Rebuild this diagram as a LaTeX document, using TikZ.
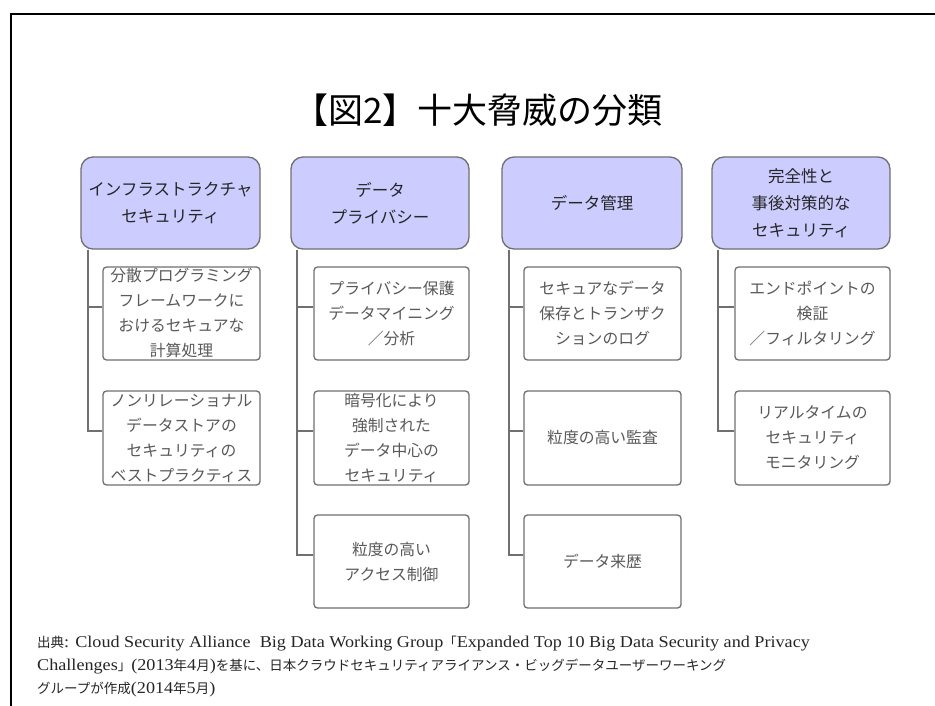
\documentclass[tikz,border=0pt]{standalone}
\usepackage{fontspec}
\setmainfont{Noto Sans CJK JP}
\newfontfamily\lat[FakeStretch=1.1]{Liberation Serif}
\newcommand{\lt}[1]{{\lat\fontsize{16.5}{16}\selectfont #1}}
\begin{document}
\begin{tikzpicture}[x=1pt,y=-1pt,
  head/.style={draw=boxgray, line width=1.3pt, fill=headfill, rounded corners=12pt,
    inner sep=0pt, align=center, text=black!85, font=\fontsize{16.5}{27}\selectfont},
  child/.style={draw=boxgray, line width=1.3pt, fill=white, rounded corners=3.5pt,
    inner sep=0pt, align=center, text=black!65, font=\fontsize{15.8}{25}\selectfont},
  conn/.style={draw=linegray, line width=2pt},
  note/.style={anchor=west, inner sep=0pt, text=black!85, font=\fontsize{13.5}{16}\selectfont}]
\definecolor{headfill}{HTML}{CCCCFF}
\definecolor{boxgray}{HTML}{707070}
\definecolor{linegray}{HTML}{707070}
\useasboundingbox (0,0) rectangle (935,706);
\fill[white] (0,0) rectangle (935,706);
% frame
\draw[line width=2.2pt,black] (11,706) -- (11,14) -- (935,14);
% title
\node[inner sep=0pt, font=\fontsize{35}{40}\selectfont] (title) at (478,110) {【図2】十大脅威の分類};
% headers
\node[head, minimum width=179pt, minimum height=92pt] (h1) at (170.5,203) {インフラストラクチャ\\セキュリティ};
\node[head, minimum width=178pt, minimum height=92pt] (h2) at (380,203) {データ\\プライバシー};
\node[head, minimum width=180pt, minimum height=92pt] (h3) at (592,203) {データ管理};
\node[head, minimum width=178pt, minimum height=92pt] (h4) at (801,203) {完全性と\\事後対策的な\\セキュリティ};
% children col1
\node[child, minimum width=157pt, minimum height=93pt] (c11) at (181.5,313.5) {分散プログラミング\\フレームワークに\\おけるセキュアな\\計算処理};
\node[child, minimum width=157pt, minimum height=94pt] (c12) at (181.5,438) {ノンリレーショナル\\データストアの\\セキュリティの\\ベストプラクティス};
% col2
\node[child, minimum width=155pt, minimum height=93pt] (c21) at (391.5,313.5) {プライバシー保護\\データマイニング\\／分析};
\node[child, minimum width=155pt, minimum height=94pt] (c22) at (391.5,438) {暗号化により\\強制された\\データ中心の\\セキュリティ};
\node[child, minimum width=155pt, minimum height=93pt] (c23) at (391.5,561.5) {粒度の高い\\アクセス制御};
% col3
\node[child, minimum width=157pt, minimum height=93pt] (c31) at (602.5,313.5) {セキュアなデータ\\保存とトランザク\\ションのログ};
\node[child, minimum width=157pt, minimum height=94pt] (c32) at (602.5,438) {粒度の高い監査};
\node[child, minimum width=157pt, minimum height=93pt] (c33) at (602.5,561.5) {データ来歴};
% col4
\node[child, minimum width=155pt, minimum height=93pt] (c41) at (812.5,313.5) {エンドポイントの\\検証\\／フィルタリング};
\node[child, minimum width=155pt, minimum height=94pt] (c42) at (812.5,438) {リアルタイムの\\セキュリティ\\モニタリング};
% connectors
\draw[conn] ([xshift=8pt]h1.south west) |- ([yshift=7pt]c11.west);
\draw[conn] ([xshift=8pt]h1.south west) |- ([yshift=7pt]c12.west);
\draw[conn] ([xshift=7pt]h2.south west) |- ([yshift=7pt]c21.west);
\draw[conn] ([xshift=7pt]h2.south west) |- ([yshift=7pt]c22.west);
\draw[conn] ([xshift=7pt]h2.south west) |- ([yshift=7pt]c23.west);
\draw[conn] ([xshift=8pt]h3.south west) |- ([yshift=7pt]c31.west);
\draw[conn] ([xshift=8pt]h3.south west) |- ([yshift=7pt]c32.west);
\draw[conn] ([xshift=8pt]h3.south west) |- ([yshift=7pt]c33.west);
\draw[conn] ([xshift=7pt]h4.south west) |- ([yshift=7pt]c41.west);
\draw[conn] ([xshift=7pt]h4.south west) |- ([yshift=7pt]c42.west);
% footnote
\node[note] (n1) at (37,644) {出典\lt{: Cloud Security Alliance\ \ Big Data Working Group}「\lt{Expanded Top 10 Big Data Security and Privacy}};
\node[note] (n2) at (37,667) {\lt{Challenges}」\lt{(2013}年\lt{4}月\lt{)}を基に、日本クラウドセキュリティアライアンス・ビッグデータユーザーワーキング};
\node[note] (n3) at (37,690) {グループが作成\lt{(2014}年\lt{5}月\lt{)}};
\end{tikzpicture}
\end{document}
